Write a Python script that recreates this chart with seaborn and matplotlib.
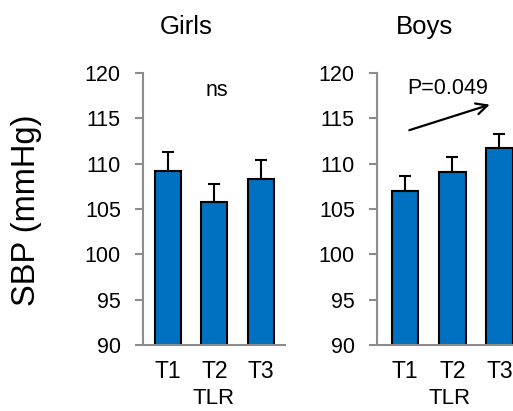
import numpy as np
import pandas as pd
import matplotlib
matplotlib.use("Agg")
import matplotlib.pyplot as plt
import seaborn as sns

sns.set_style("white")
plt.rcParams['font.family'] = ['Liberation Sans', 'DejaVu Sans']
plt.rcParams['text.color'] = 'black'
plt.rcParams['axes.labelcolor'] = 'black'
plt.rcParams['xtick.color'] = 'black'
plt.rcParams['ytick.color'] = 'black'

tertiles = ["T1", "T2", "T3"]
girls_sbp = [109.2, 105.8, 108.3]
girls_se = [2.1, 2.0, 2.1]
boys_sbp = [107.0, 109.1, 111.7]
boys_se = [1.6, 1.6, 1.6]

bar_color = "#0070C0"
spine_color = "#8c8c8c"

fig = plt.figure(figsize=(5.13, 4.11), dpi=100)
ax_g = fig.add_axes([143 / 513, 1 - 345 / 411, 142 / 513, 272 / 411])
ax_b = fig.add_axes([377 / 513, 1 - 345 / 411, 146 / 513, 272 / 411])


def draw_panel(ax, vals, errs, xlim):
    df = pd.DataFrame({"TLR": tertiles, "SBP": vals})
    sns.barplot(data=df, x="TLR", y="SBP", ax=ax, color=bar_color,
                edgecolor="black", linewidth=1.5, width=0.56,
                saturation=1, errorbar=None)
    ax.errorbar(range(len(vals)), vals, yerr=[np.zeros(len(vals)), errs],
                fmt="none", ecolor="black", elinewidth=1.5, capsize=4,
                capthick=1.5, zorder=1)
    ax.set_ylim(90, 120)
    ax.set_xlim(*xlim)
    ax.set_yticks(range(90, 121, 5))
    ax.set_xlabel("TLR", fontsize=16, labelpad=4)
    ax.set_ylabel("")
    sns.despine(ax=ax)
    for s in ["left", "bottom"]:
        ax.spines[s].set_color(spine_color)
        ax.spines[s].set_linewidth(1.5)
    ax.tick_params(axis="y", left=True, length=6, width=1.5, color=spine_color,
                   labelcolor="black", labelsize=15.5, pad=10)
    ax.tick_params(axis="x", bottom=False, labelsize=16.5, pad=7)


draw_panel(ax_g, girls_sbp, girls_se, (-0.54, 2.52))
draw_panel(ax_b, boys_sbp, boys_se, (-0.6, 2.5))

fig.text(186 / 513, 1 - 27 / 411, "Girls", ha="center", va="center", fontsize=18.5)
fig.text(425 / 513, 1 - 27 / 411, "Boys", ha="center", va="center", fontsize=18.5)

ax_g.text(1.05, 118.1, "ns", ha="center", va="center", fontsize=15.5)
ax_b.text(0.91, 118.3, "P=0.049", ha="center", va="center", fontsize=15.5)
ax_b.annotate("", xy=(1.85, 116.6), xytext=(0.03, 113.6),
              arrowprops=dict(arrowstyle="->", color="black", lw=1.6,
                              mutation_scale=20))

fig.text(27 / 513, 1 - 210 / 411, "SBP (mmHg)", rotation=90,
         ha="center", va="center", fontsize=23.5)

fig.savefig("out.png", dpi=100)
